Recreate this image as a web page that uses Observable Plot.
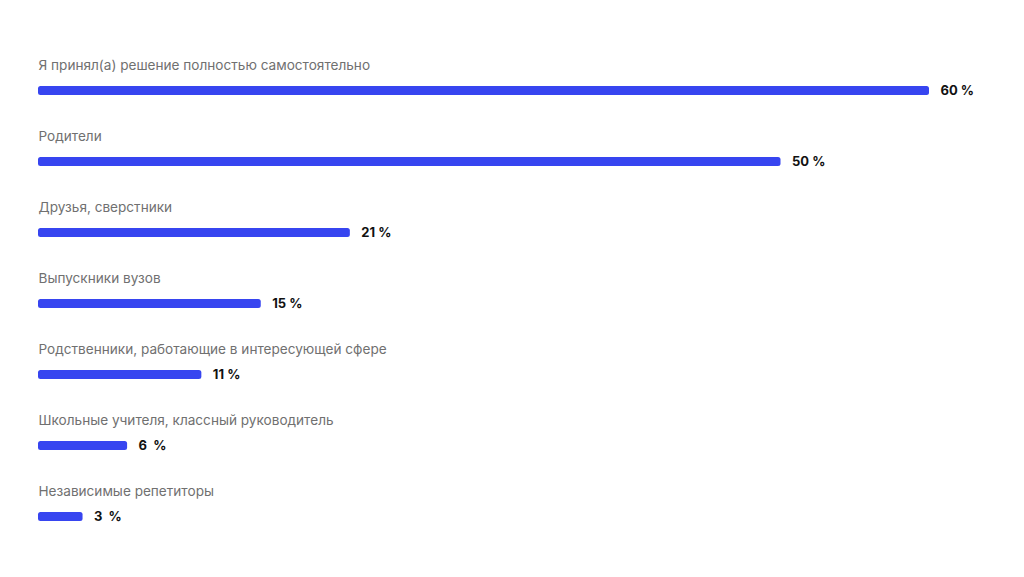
<!DOCTYPE html>
<html>
<head>
<meta charset="utf-8">
<script src="https://cdn.jsdelivr.net/npm/d3@7"></script>
<script src="https://cdn.jsdelivr.net/npm/@observablehq/plot@0.6"></script>
<style>
  html, body { margin: 0; padding: 0; background: #fff; }
  #chart svg { display: block; }
</style>
</head>
<body>
<div id="chart"></div>
<script>
const categories = [
  "Я принял(а) решение полностью самостоятельно",
  "Родители",
  "Друзья, сверстники",
  "Выпускники вузов",
  "Родственники, работающие в интересующей сфере",
  "Школьные учителя, классный руководитель",
  "Независимые репетиторы"
];
const values = [60, 50, 21, 15, 11, 6, 3];
const valueLabels = ["60 %", "50 %", "21 %", "15 %", "11 %", "6\u00a0\u00a0%", "3\u00a0\u00a0%"];

const data = categories.map((c, i) => ({ category: c, value: values[i], label: valueLabels[i] }));

const chart = Plot.plot({
  width: 1024,
  height: 577,
  marginLeft: 38,
  marginRight: 95,
  marginTop: 54.5,
  marginBottom: 25.5,
  style: { fontFamily: "Inter, 'Noto Sans', sans-serif", background: "#fff" },
  x: { domain: [0, 60], axis: null },
  y: { domain: categories, axis: null, padding: 0 },
  marks: [
    Plot.barX(data, { y: "category", x: "value", fill: "#3745f0", insetTop: 31, insetBottom: 31, rx: 2.5 }),
    Plot.text(data, { y: "category", x: 0, text: "category", dy: -25, textAnchor: "start", fill: "#707070", fontSize: 13.6 }),
    Plot.text(data, { y: "category", x: "value", text: "label", dx: 11, textAnchor: "start", fill: "#111", fontSize: 13, fontWeight: "bold" })
  ]
});
document.getElementById("chart").appendChild(chart);
</script>
</body>
</html>
